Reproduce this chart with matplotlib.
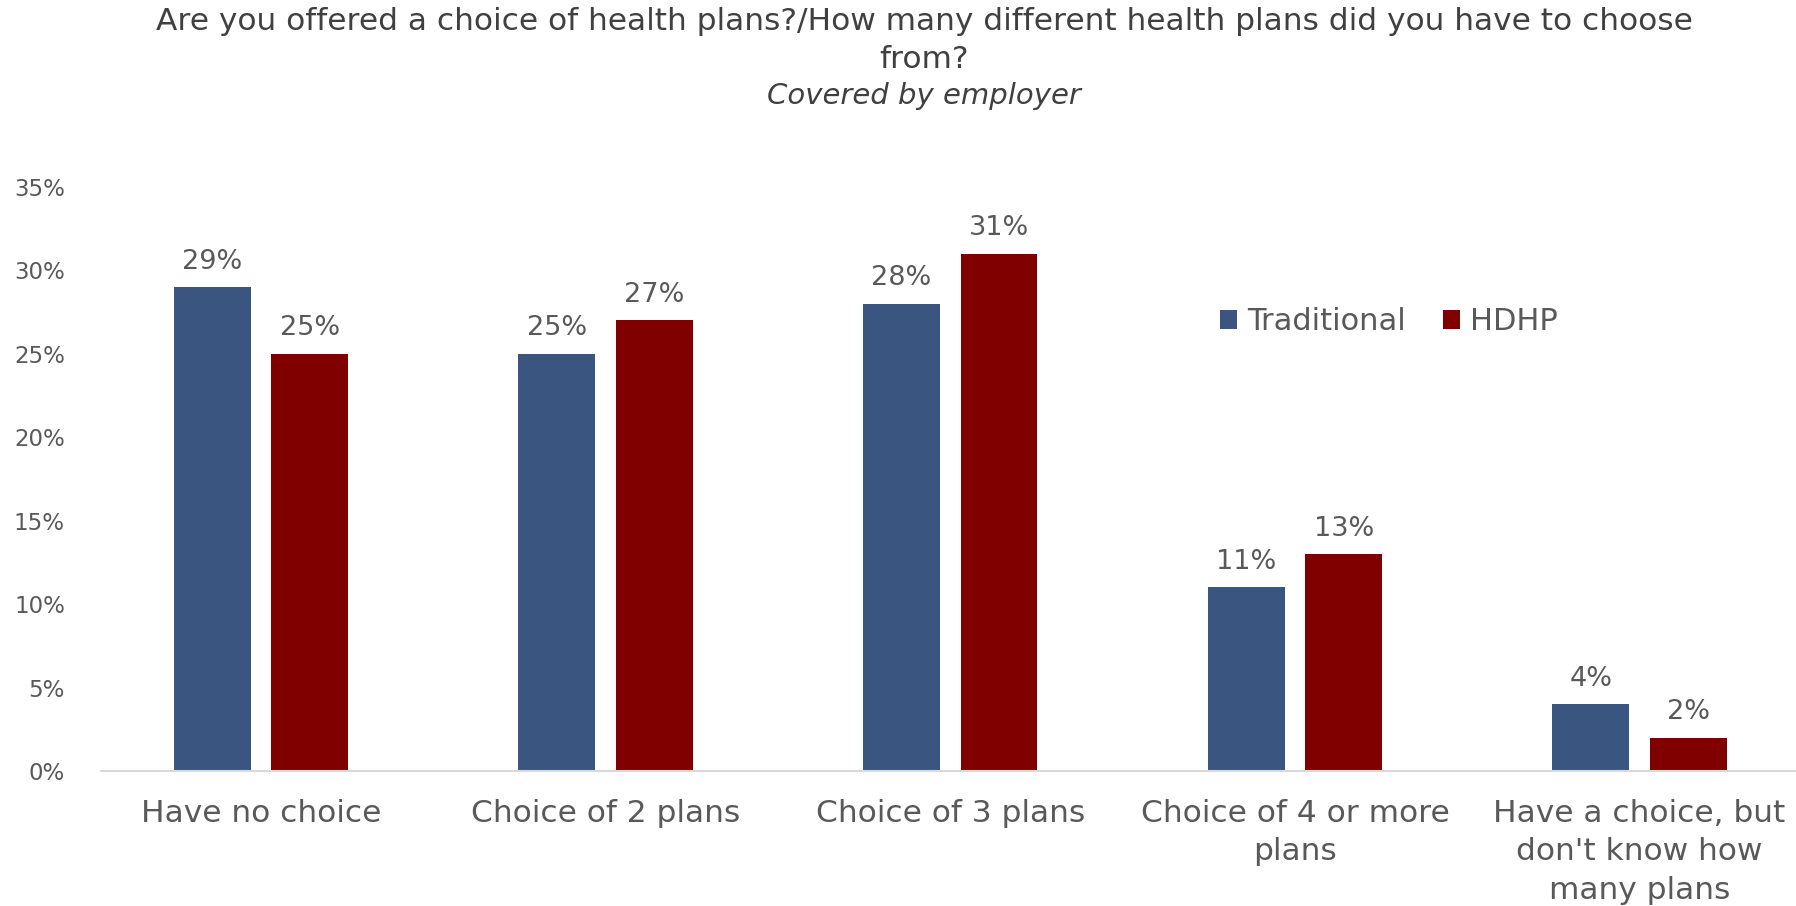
import numpy as np
import matplotlib.pyplot as plt

plt.rcParams['font.family'] = ['DejaVu Sans']

categories = ['Have no choice', 'Choice of 2 plans', 'Choice of 3 plans',
              'Choice of 4 or more\nplans', 'Have a choice, but\ndon\'t know how\nmany plans']
traditional = [29, 25, 28, 11, 4]
hdhp = [25, 27, 31, 13, 2]
yticks = [0, 5, 10, 15, 20, 25, 30, 35]

blue = '#3A5580'
red = '#800000'
grey = '#595959'

fig = plt.figure(figsize=(17.96, 9.06), dpi=100)
ax = fig.add_axes([101 / 1796, 1 - 771 / 906, 1695 / 1796, (771 - 187) / 906])

x = np.arange(len(categories))
w = 0.223
off = w / 2 + 0.03
b1 = ax.bar(x - off, traditional, w, color=blue, label='Traditional')
b2 = ax.bar(x + off, hdhp, w, color=red, label='HDHP')

for bars, vals in [(b1, traditional), (b2, hdhp)]:
    for b, v in zip(bars, vals):
        ax.annotate(f'{v}%', (b.get_x() + b.get_width() / 2, v),
                    xytext=(0, 9), textcoords='offset points',
                    ha='center', va='bottom', fontsize=19.5, color=grey)

ax.set_xlim(-0.464, 4.454)
ax.set_ylim(0, 35)
ax.set_yticks(yticks)
ax.set_yticklabels([f'{t}%' for t in yticks])
ax.set_xticks(x)
ax.set_xticklabels(categories)
ax.tick_params(axis='y', length=0, labelsize=16.5, labelcolor=grey, pad=26)
ax.tick_params(axis='x', length=0, labelsize=22.5, labelcolor=grey, pad=20)
for lbl in ax.get_xticklabels():
    lbl.set_linespacing(1.42)

for s in ['top', 'right', 'left']:
    ax.spines[s].set_visible(False)
ax.spines['bottom'].set_color('#D9D9D9')
ax.spines['bottom'].set_linewidth(1.5)

leg = ax.legend(loc='center left', frameon=False, ncol=2, fontsize=22,
                labelcolor=grey, handlelength=0.55, handleheight=0.55,
                handletextpad=0.35, columnspacing=1.2, borderpad=0, borderaxespad=0)
leg.set_bbox_to_anchor((1220 / 1796, 1 - 322 / 906), transform=fig.transFigure)

cx = 924 / 1796
fig.text(cx, 1 - 22 / 906, 'Are you offered a choice of health plans?/How many different health plans did you have to choose',
         ha='center', va='center', fontsize=22.5, color='#404040')
fig.text(cx, 1 - 59 / 906, 'from?', ha='center', va='center', fontsize=22.5, color='#404040')
fig.text(cx, 1 - 96 / 906, 'Covered by employer', ha='center', va='center', fontsize=21,
         style='italic', color='#404040')

fig.savefig('out.png', dpi=100)
